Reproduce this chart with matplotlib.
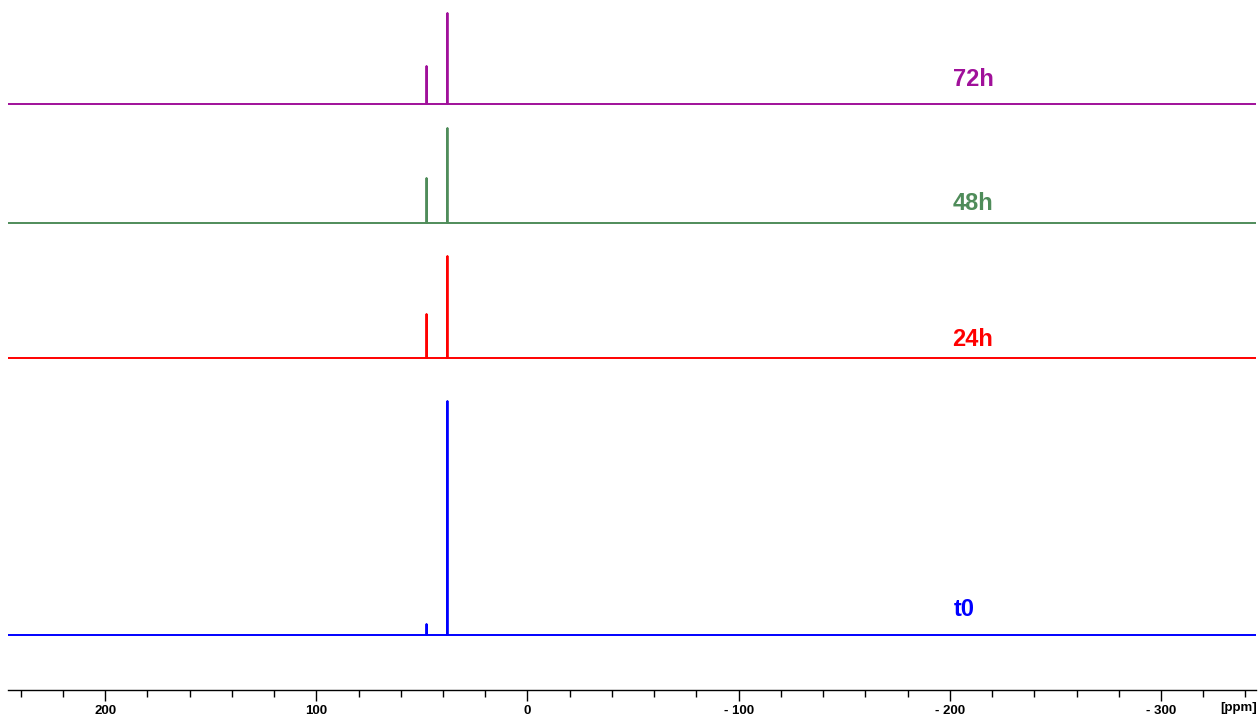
import numpy as np
import matplotlib.pyplot as plt
from matplotlib.ticker import MultipleLocator, FixedLocator

# spectra: peak positions (ppm) and heights (arbitrary, ~pixel units)
labels = ['t0', '24h', '48h', '72h']
colors = ['#0000ff', '#ff0000', '#4f8c5a', '#a0109a']
peak_ppm = [47.8, 37.9]
heights = {
    't0': [11, 234],
    '24h': [44, 102],
    '48h': [45, 95],
    '72h': [38, 91],
}
offsets = {'t0': 55, '24h': 332, '48h': 467, '72h': 586}
label_pos = {'t0': (-207, 80), '24h': (-211, 350), '48h': (-211, 486), '72h': (-211, 610)}

x_left, x_right = 246, -345

fig = plt.figure(figsize=(12.58, 7.19), dpi=100)
ax = fig.add_axes([8 / 1258, 1 - 690 / 719, 1248 / 1258, 690 / 719])

for name, col in zip(labels, colors):
    xs = [x_left]
    ys = [0]
    for p, h in sorted(zip(peak_ppm, heights[name]), reverse=True):
        xs += [p + 0.2, p, p - 0.2]
        ys += [0, h, 0]
    xs.append(x_right)
    ys.append(0)
    ys = np.array(ys) + offsets[name]
    ax.plot(xs, ys, color=col, lw=1.4)
    lx, ly = label_pos[name]
    ax.text(lx, ly, name, color=col, fontsize=17, fontweight='bold',
            ha='center', va='center', family='Liberation Sans')

ax.set_xlim(x_left, x_right)
ax.set_ylim(0, 690)
for s in ['top', 'left', 'right']:
    ax.spines[s].set_visible(False)
ax.spines['bottom'].set_linewidth(1.0)
ax.set_yticks([])
ax.xaxis.set_major_locator(FixedLocator([200, 100, 0, -100, -200, -300]))
ax.xaxis.set_minor_locator(MultipleLocator(20))
ax.set_xticklabels(['200', '100', '0', '- 100', '- 200', '- 300'],
                   fontsize=9.5, fontweight='bold', family='Liberation Sans')
ax.tick_params(axis='x', which='major', length=8, width=1, pad=3)
ax.tick_params(axis='x', which='minor', length=5, width=1)
fig.text(1239 / 1258, 1 - 708 / 719, '[ppm]', fontsize=9.5, fontweight='bold',
         family='Liberation Sans', ha='center', va='center')

fig.savefig('out.png', dpi=100)
